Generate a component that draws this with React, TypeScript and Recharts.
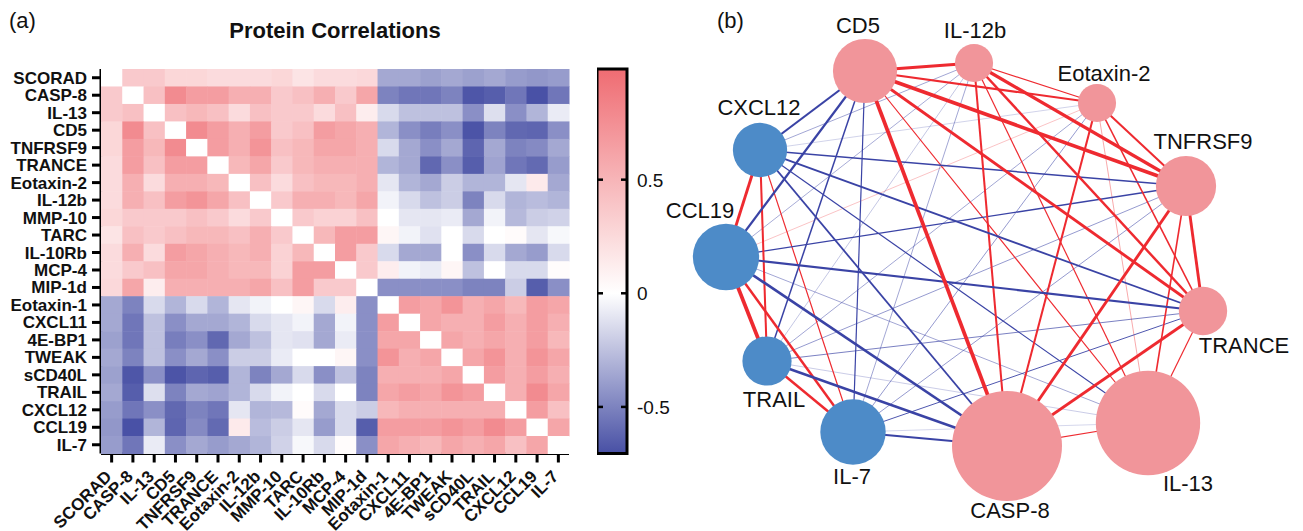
import React from "react";
import { ScatterChart, Scatter, XAxis, YAxis, ZAxis, Cell, BarChart, Bar } from "recharts";

// heatmap order (rows top -> bottom, columns left -> right)
const proteins = [
  "SCORAD", "CASP-8", "IL-13", "CD5", "TNFRSF9", "TRANCE", "Eotaxin-2", "IL-12b",
  "MMP-10", "TARC", "IL-10Rb", "MCP-4", "MIP-1d", "Eotaxin-1", "CXCL11", "4E-BP1",
  "TWEAK", "sCD40L", "TRAIL", "CXCL12", "CCL19", "IL-7",
];

// upper triangle of the correlation matrix, row i holds columns i+1..21
const upperTriangle: number[][] = [
  [0.36, 0.36, 0.27, 0.27, 0.24, 0.24, 0.24, 0.27, 0.18, 0.24, 0.24, 0.26, -0.35, -0.35, -0.38, -0.35, -0.38, -0.35, -0.4, -0.42, -0.4],
  [0.42, 0.78, 0.66, 0.66, 0.54, 0.54, 0.36, 0.42, 0.54, 0.36, 0.6, -0.5, -0.55, -0.55, -0.5, -0.68, -0.65, -0.55, -0.7, -0.55],
  [0.42, 0.48, 0.42, 0.24, 0.42, 0.36, 0.36, 0.24, 0.42, 0.12, -0.15, -0.25, -0.25, -0.25, -0.45, -0.13, -0.45, -0.3, -0.08],
  [0.78, 0.66, 0.54, 0.66, 0.36, 0.42, 0.66, 0.6, 0.54, -0.3, -0.45, -0.52, -0.45, -0.69, -0.5, -0.61, -0.62, -0.45],
  [0.66, 0.54, 0.72, 0.42, 0.48, 0.6, 0.6, 0.54, -0.15, -0.35, -0.45, -0.35, -0.62, -0.35, -0.5, -0.47, -0.35],
  [0.48, 0.6, 0.36, 0.48, 0.54, 0.54, 0.54, -0.3, -0.35, -0.61, -0.45, -0.65, -0.37, -0.55, -0.6, -0.4],
  [0.42, 0.24, 0.42, 0.48, 0.48, 0.54, -0.1, -0.3, -0.35, -0.2, -0.3, -0.3, -0.1, 0.14, -0.35],
  [0.36, 0.54, 0.54, 0.48, 0.6, -0.05, -0.15, -0.25, -0.2, -0.5, -0.15, -0.3, -0.27, -0.3],
  [0.36, 0.3, 0.3, 0.42, 0.0, -0.1, -0.1, -0.08, -0.35, -0.05, -0.28, -0.2, -0.18],
  [0.48, 0.66, 0.66, 0.06, -0.05, -0.12, 0.0, -0.15, 0.0, 0.03, -0.1, -0.03],
  [0.66, 0.36, -0.15, -0.35, -0.35, 0.0, -0.45, -0.15, -0.35, -0.4, -0.15],
  [0.36, 0.12, -0.05, -0.08, 0.06, -0.25, 0.0, -0.15, -0.15, 0.02],
  [-0.45, -0.45, -0.45, -0.45, -0.5, -0.5, -0.2, -0.65, -0.45],
  [0.66, 0.6, 0.72, 0.54, 0.6, 0.48, 0.66, 0.6],
  [0.6, 0.54, 0.54, 0.66, 0.54, 0.66, 0.54],
  [0.6, 0.54, 0.6, 0.54, 0.66, 0.48],
  [0.6, 0.72, 0.54, 0.72, 0.6],
  [0.66, 0.54, 0.66, 0.54],
  [0.54, 0.78, 0.6],
  [0.66, 0.42],
  [0.6],
];

const colorMin = -0.705;
const colorMax = 0.987;
const colorbarTicks = [-0.5, 0, 0.5];

// network panel
const networkNodes = ["CD5", "IL-12b", "Eotaxin-2", "TNFRSF9", "TRANCE", "IL-13", "CASP-8", "IL-7", "TRAIL", "CCL19", "CXCL12"];
const nodeLayoutX = [225, 334, 457, 546, 563, 508, 367, 213, 127, 86, 120];
const nodeLayoutY = [71, 63, 103, 186, 311, 423, 446, 432, 361, 257, 150];
const nodeWeight = [10.2, 3.6, 3.6, 9.0, 5.8, 27.0, 30.0, 10.6, 6.0, 10.9, 7.3];

// label placement relative to node centre (dx, baseline dy)
const labelOffsets: Record<string, [number, number]> = {
  CD5: [-7, -38], "IL-12b": [1, -25], "Eotaxin-2": [7, -22], TNFRSF9: [17, -37],
  TRANCE: [41, 42], "IL-13": [40, 68], "CASP-8": [3, 72], "IL-7": [-1, 52],
  TRAIL: [7, 46], CCL19: [-26, -39], CXCL12: [-1, -35],
};

const FONT = '"Liberation Sans", Arial, sans-serif';
const N = proteins.length;
const PLOT_L = 101, PLOT_R = 569, PLOT_T = 69, PLOT_B = 453.5;
const CELL_W = (PLOT_R - PLOT_L) / N;
const CELL_H = (PLOT_B - PLOT_T) / N;
const NET_LEFT = 640, NET_W = 663;

const corr = (i: number, j: number): number | null => {
  if (i === j) return null;
  return i < j ? upperTriangle[i][j - i - 1] : upperTriangle[j][i - j - 1];
};

const heatCells: { x: number; y: number; v: number | null }[] = [];
proteins.forEach((_, i) => proteins.forEach((__, j) => heatCells.push({ x: j + 0.5, y: i + 0.5, v: corr(i, j) })));

const tickPos = proteins.map((_, i) => i + 0.5);

const POS = [239, 108, 114];
const NEG = [72, 80, 165];
const heatColor = (v: number | null) => {
  if (v === null) return "#ffffff";
  const t = v >= 0 ? Math.min(v / colorMax, 1) : Math.min(v / colorMin, 1);
  const c = v >= 0 ? POS : NEG;
  const m = c.map((k) => Math.round(255 + (k - 255) * t));
  return `rgb(${m[0]},${m[1]},${m[2]})`;
};

const HeatRect = (props: any) => {
  const { cx, cy, payload } = props;
  return <rect x={cx - CELL_W / 2} y={cy - CELL_H / 2} width={CELL_W + 0.5} height={CELL_H + 0.5} fill={heatColor(payload.v)} />;
};

const YTick = (props: any) => {
  const { x, y, payload } = props;
  return (
    <text x={x - 3} y={y + 6} textAnchor="end" fontFamily={FONT} fontWeight="bold" fontSize={17} fill="#111">
      {proteins[Math.floor(payload.value)]}
    </text>
  );
};

const XTick = (props: any) => {
  const { x, y, payload } = props;
  const ax = x + 1, ay = y + 13;
  return (
    <text x={ax} y={ay} transform={`rotate(-45 ${ax} ${ay})`} textAnchor="end" fontFamily={FONT} fontWeight="bold" fontSize={17} fill="#111">
      {proteins[Math.floor(payload.value)]}
    </text>
  );
};

const ColorbarTick = (props: any) => {
  const { y, payload } = props;
  return (
    <g>
      <line x1={0} x2={6} y1={y} y2={y} stroke="#000" strokeWidth={2.5} />
      <line x1={24} x2={30} y1={y} y2={y} stroke="#000" strokeWidth={2.5} />
      <text x={40} y={y + 7} fontFamily={FONT} fontSize={19} fill="#111">{payload.value}</text>
    </g>
  );
};

const gradientValues = [0.987, 0.75, 0.5, 0.25, 0, -0.2, -0.4, -0.6, -0.705];

const nodes = networkNodes.map((name, k) => ({
  name,
  x: nodeLayoutX[k],
  y: nodeLayoutY[k],
  w: nodeWeight[k],
  idx: proteins.indexOf(name),
}));

const edges: { a: number; b: number; r: number }[] = [];
nodes.forEach((na, a) =>
  nodes.forEach((nb, b) => {
    if (b > a) edges.push({ a, b, r: corr(na.idx, nb.idx) as number });
  })
);
edges.sort((p, q) => Math.abs(p.r) - Math.abs(q.r));

const edgeStyle = (r: number) => {
  const m = Math.abs(r);
  return {
    stroke: r >= 0 ? "#ee2a30" : "#3a43a5",
    strokeWidth: Math.max(0.6, (m - 0.25) * (r >= 0 ? 7 : 6)),
    strokeOpacity: Math.min(1, 0.2 + m * 2),
  };
};

const NodeShape = (props: any) => {
  const { cx, cy, width, payload } = props;
  const [dx, dy] = labelOffsets[payload.name];
  return (
    <g>
      <circle cx={cx} cy={cy} r={width / 2} fill={payload.idx < 13 ? "#f1959a" : "#4d8bc8"} />
      <text x={cx + dx} y={cy + dy} textAnchor="middle" fontFamily={FONT} fontSize={22} fill="#111">
        {payload.name}
      </text>
    </g>
  );
};

const NoDot = () => <g />;

export default function App() {
  return (
    <div style={{ position: "absolute", left: 0, top: 0, width: 1303, height: 531, background: "#fff", fontFamily: FONT }}>
      <div style={{ position: "absolute", left: 9, top: 8, fontSize: 22, color: "#111" }}>(a)</div>
      <div style={{ position: "absolute", left: 717, top: 8, fontSize: 22, color: "#111" }}>(b)</div>
      <div style={{ position: "absolute", left: 135, width: 400, top: 18, textAlign: "center", fontSize: 22, fontWeight: "bold", color: "#111" }}>
        Protein Correlations
      </div>

      <div style={{ position: "absolute", left: 0, top: 0 }}>
        <ScatterChart width={630} height={531} margin={{ top: PLOT_T, right: 630 - PLOT_R, bottom: 0, left: 0 }}>
          <XAxis type="number" dataKey="x" domain={[0, N]} ticks={tickPos} interval={0} height={531 - PLOT_B}
            tick={<XTick />} tickSize={9} axisLine={{ stroke: "#000", strokeWidth: 3 }} tickLine={{ stroke: "#000", strokeWidth: 3 }} />
          <XAxis xAxisId="top" orientation="top" type="number" domain={[0, N]} height={0} tick={false} tickLine={false}
            axisLine={{ stroke: "#000", strokeWidth: 3 }} />
          <YAxis type="number" dataKey="y" domain={[0, N]} reversed ticks={tickPos} interval={0} width={PLOT_L}
            tick={<YTick />} tickSize={9} axisLine={{ stroke: "#000", strokeWidth: 3 }} tickLine={{ stroke: "#000", strokeWidth: 3 }} />
          <YAxis yAxisId="right" orientation="right" type="number" domain={[0, N]} width={0} tick={false} tickLine={false}
            axisLine={{ stroke: "#000", strokeWidth: 3 }} />
          <Scatter data={heatCells} shape={HeatRect} isAnimationActive={false} />
        </ScatterChart>
      </div>

      <div style={{ position: "absolute", left: 597, top: 0 }}>
        <BarChart width={100} height={531} data={[{ name: "scale", range: [colorMin, colorMax] }]}
          margin={{ top: PLOT_T, right: 0, bottom: 531 - PLOT_B, left: 0 }} barCategoryGap={0}>
          <defs>
            <linearGradient id="heatGradient" x1="0" y1="0" x2="0" y2="1">
              {gradientValues.map((v) => (
                <stop key={v} offset={(colorMax - v) / (colorMax - colorMin)} stopColor={heatColor(v)} />
              ))}
            </linearGradient>
          </defs>
          <XAxis dataKey="name" hide />
          <YAxis orientation="right" type="number" width={70} domain={[colorMin, colorMax]} ticks={colorbarTicks}
            axisLine={false} tickLine={false} tick={<ColorbarTick />} />
          <Bar dataKey="range" fill="url(#heatGradient)" stroke="#000" strokeWidth={3} isAnimationActive={false} />
        </BarChart>
      </div>

      <div style={{ position: "absolute", left: NET_LEFT, top: 0 }}>
        <ScatterChart width={NET_W} height={531} margin={{ top: 0, right: 0, bottom: 0, left: 0 }}>
          <XAxis type="number" dataKey="x" domain={[0, NET_W]} hide />
          <YAxis type="number" dataKey="y" domain={[0, 531]} reversed hide />
          <ZAxis type="number" dataKey="w" domain={[0, 30]} range={[0, Math.PI * 55 * 55]} />
          {edges.map((e, k) => (
            <Scatter key={`edge-${k}`} data={[nodes[e.a], nodes[e.b]]} line={edgeStyle(e.r)} shape={NoDot} isAnimationActive={false} />
          ))}
          <Scatter data={nodes} shape={NodeShape} isAnimationActive={false}>
            {nodes.map((n, k) => (
              <Cell key={`node-${k}`} />
            ))}
          </Scatter>
        </ScatterChart>
      </div>
    </div>
  );
}
